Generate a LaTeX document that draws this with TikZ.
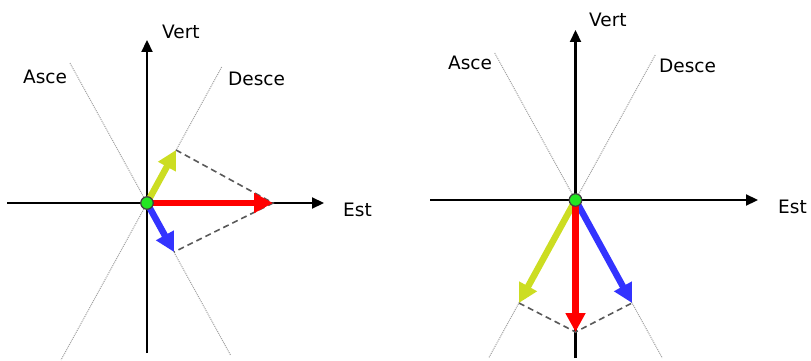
\documentclass[tikz,border=0pt]{standalone}
\usepackage{fontspec}
\setmainfont{DejaVu Sans}
\usetikzlibrary{arrows.meta}
\definecolor{yel}{RGB}{204,221,34}
\definecolor{blu}{RGB}{51,51,255}
\definecolor{dotgreen}{RGB}{34,230,34}
\begin{document}
\begin{tikzpicture}[x=1pt,y=-1pt,
 axis/.style={line width=2.2pt, -{Triangle[length=12pt,width=11pt]}},
 guide/.style={gray!75, line width=1pt, densely dotted},
 vec/.style={line width=6.5pt, -{Triangle[length=19pt,width=19pt]}},
 proj/.style={dash pattern=on 6pt off 4pt, line width=1.6pt, black!65},
 origin/.style={circle, fill=dotgreen, draw=black!75, line width=1.2pt, minimum size=12.5pt, inner sep=0pt},
 lbl/.style={font=\fontsize{18.5}{20}\selectfont, inner sep=0pt}]
\useasboundingbox (0,0) rectangle (811,361);

% ---------- left diagram ----------
\coordinate (c1) at (147,203);
\coordinate (vt1) at (147,40);
\coordinate (vb1) at (147,353);
\coordinate (hl1) at (7,203);
\coordinate (hr1) at (324,203);
\coordinate (a1u) at (70,63);
\coordinate (a1d) at (230.5,355);
\coordinate (d1u) at (221.7,67);
\coordinate (d1d) at (61,360);
\coordinate (y1) at (176,150);
\coordinate (r1) at (273,203);
\coordinate (b1) at (174,252);

\draw[guide] (a1u) -- (a1d);
\draw[guide] (d1u) -- (d1d);
\draw[axis] (vb1) -- (vt1);
\draw[axis] (hl1) -- (hr1);
\draw[proj] (y1) -- (r1) -- (b1);
\draw[vec, yel] (c1) -- (y1);
\draw[vec, blu] (c1) -- (b1);
\draw[vec, red] (c1) -- (r1);
\node[origin] (o1) at (c1) {};

\node[lbl, anchor=base west] (vert1) at (162,39) {Vert};
\node[lbl, anchor=base west] (desc1) at (228,85) {Desce};
\node[lbl, anchor=base west] (asc1) at (23,83) {Asce};
\node[lbl, anchor=base west] (est1) at (343,216) {Est};

% ---------- right diagram ----------
\coordinate (c2) at (575.5,200);
\coordinate (vt2) at (575.5,30);
\coordinate (vb2) at (575.5,358);
\coordinate (hl2) at (430,200);
\coordinate (hr2) at (758,200);
\coordinate (a2u) at (494.7,53);
\coordinate (a2d) at (662.3,358);
\coordinate (d2u) at (655.2,55);
\coordinate (d2d) at (488.7,358);
\coordinate (y2) at (519,303);
\coordinate (r2) at (575.5,332);
\coordinate (b2) at (632,303);

\draw[guide] (a2u) -- (a2d);
\draw[guide] (d2u) -- (d2d);
\draw[axis] (vb2) -- (vt2);
\draw[axis] (hl2) -- (hr2);
\draw[proj] (y2) -- (r2) -- (b2);
\draw[vec, yel] (c2) -- (y2);
\draw[vec, blu] (c2) -- (b2);
\draw[vec, red] (c2) -- (r2);
\node[origin] (o2) at (c2) {};

\node[lbl, anchor=base west] (vert2) at (589,27) {Vert};
\node[lbl, anchor=base west] (desc2) at (659,73) {Desce};
\node[lbl, anchor=base west] (asc2) at (448,70) {Asce};
\node[lbl, anchor=base west] (est2) at (778,213) {Est};
\end{tikzpicture}
\end{document}
